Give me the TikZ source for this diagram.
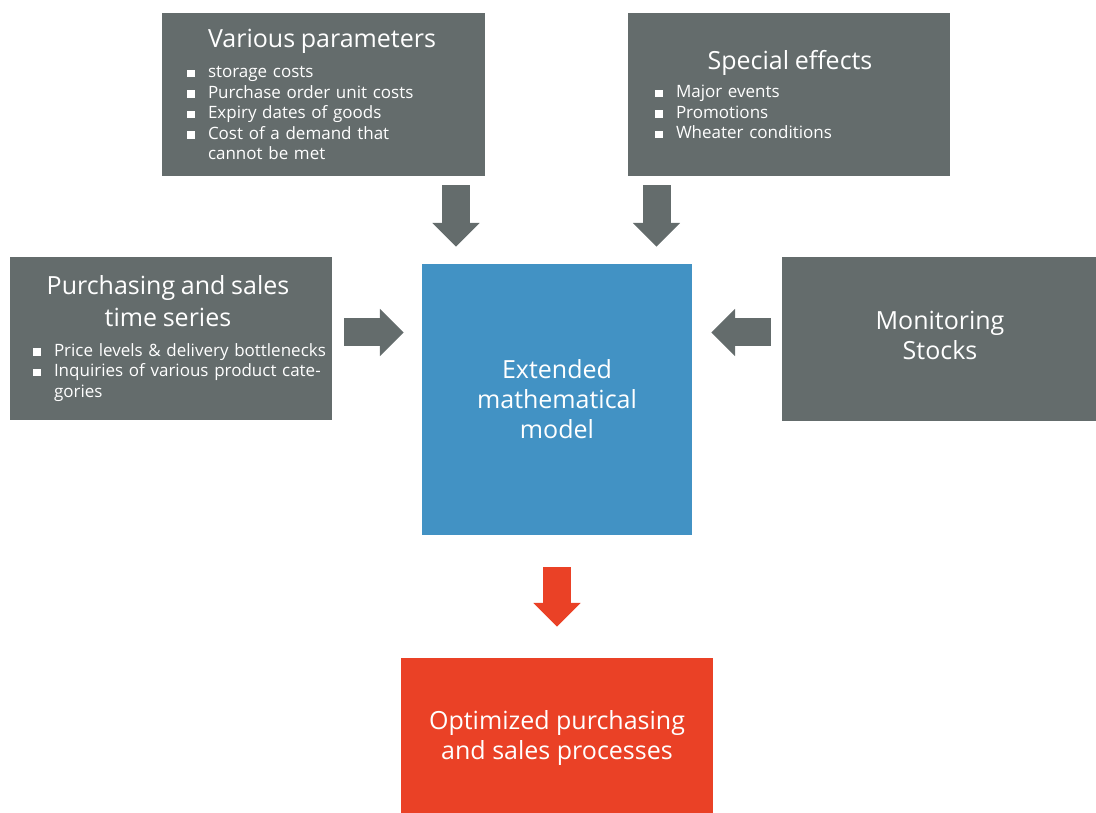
\documentclass[tikz,border=0pt]{standalone}
\usepackage{fontspec}
\setmainfont{Open Sans}
\usetikzlibrary{arrows.meta}

\definecolor{boxgray}{HTML}{646C6C}
\definecolor{modelblue}{HTML}{4292C4}
\definecolor{resultred}{HTML}{EA4126}

\newcommand{\bitem}[1]{\mbox{\makebox[21pt][l]{\rule[0.5pt]{7.5pt}{7.5pt}}#1}}
\newcommand{\bcont}[1]{\mbox{\hspace*{21pt}#1}}
\newcommand{\boxtitle}[1]{\makebox[270pt][c]{\fontsize{25}{30}\selectfont #1}}

\begin{document}
\begin{tikzpicture}[x=1pt, y=-1pt,
	box/.style={fill=boxgray, text=white, inner ysep=0pt, minimum height=163pt},
	listbox/.style={box, align=left, font=\fontsize{17}{20.5}\selectfont},
	bigbox/.style={inner sep=0pt, text=white, align=center, font=\fontsize{25}{30}\selectfont},
	grayarrow/.style={draw=boxgray, line width=28pt, -{Triangle[length=24pt,width=46pt]}},
	redarrow/.style={grayarrow, draw=resultred}]
	\useasboundingbox (0,0) rectangle (1096,813);

	% Input boxes
	%Top row
	\node[listbox, inner xsep=25pt, text width=273pt] (params) at (323.5,94.5) {
		\boxtitle{Various parameters}\\[10pt]
		\bitem{storage costs}\\
		\bitem{Purchase order unit costs}\\
		\bitem{Expiry dates of goods}\\
		\bitem{Cost of a demand that}\\
		\bcont{cannot be met}};
	\node[listbox, inner xsep=27pt, text width=268pt] (effects) at (789,94.5) {
		\boxtitle{Special effects}\\[8pt]
		\bitem{Major events}\\
		\bitem{Promotions}\\
		\bitem{Wheater conditions}};
	%Middle row
	\node[listbox, inner xsep=23pt, text width=276pt] (series) at (171,338.5) {
		\boxtitle{Purchasing and sales}\\[6.5pt]
		\boxtitle{time series}\\[9.5pt]
		\bitem{Price levels \& delivery bottlenecks}\\
		\bitem{Inquiries of various product cate-}\\
		\bcont{gories}};
	\node[box, bigbox, minimum width=316pt, minimum height=164pt] (stocks) at (940,339) {\raisebox{2.5pt}{\begin{tabular}{@{}c@{}}Monitoring\\Stocks\end{tabular}}};

	% Model and result
	\node[bigbox, fill=modelblue, minimum width=270pt, minimum height=271pt] (model) at (557,399.5) {Extended\\mathematical\\model};
	\node[bigbox, fill=resultred, minimum width=312pt, minimum height=160pt] (result) at (557,738) {Optimized purchasing\\and sales processes};

	% Block arrows
	\draw[grayarrow, shorten <=9pt, shorten >=17pt] ([xshift=132.5pt]params.south) -- ([xshift=-101pt]model.north);
	\draw[grayarrow, shorten <=9pt, shorten >=17pt] ([xshift=-132.5pt]effects.south) -- ([xshift=99.5pt]model.north);
	\draw[grayarrow, shorten <=12pt, shorten >=18pt] ([yshift=6pt]series.east) -- ([yshift=67pt]model.west);
	\draw[grayarrow, shorten <=11pt, shorten >=19pt] ([yshift=6.5pt]stocks.west) -- ([yshift=67pt]model.east);
	\draw[redarrow, shorten <=32pt, shorten >=31pt] (model.south) -- (result.north);

\end{tikzpicture}
\end{document}
